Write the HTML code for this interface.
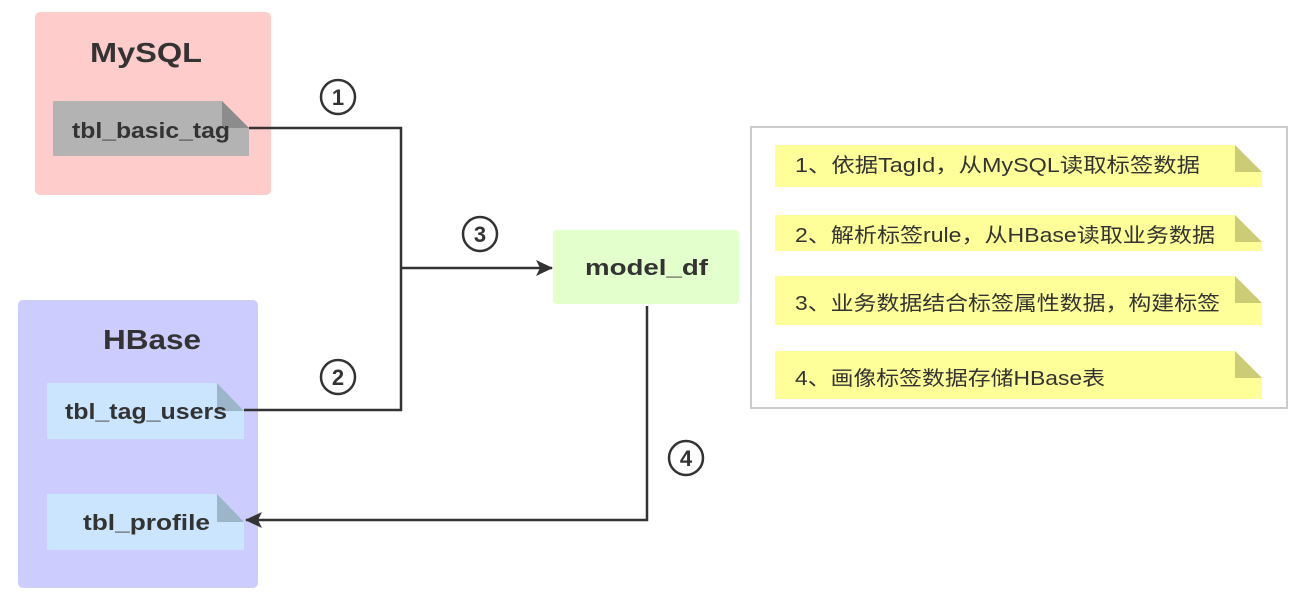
<!DOCTYPE html>
<html><head><meta charset="utf-8"><style>
html,body{margin:0;padding:0;background:#fff;}
svg{display:block;}
text{font-family:"Liberation Sans","Noto Sans CJK SC",sans-serif;}
</style></head><body>
<svg width="1304" height="608" viewBox="0 0 1304 608" xmlns="http://www.w3.org/2000/svg">
<defs>
<marker id="ar" markerWidth="18" markerHeight="16" refX="16" refY="8" orient="auto" markerUnits="userSpaceOnUse">
<path d="M0,0 L17,8 L0,16 L4,8 Z" fill="#333"/>
</marker>
</defs>
<rect x="35" y="12" width="236" height="183" rx="5" fill="#ffcccc"/>
<text x="90" y="62" font-size="28" font-weight="bold" fill="#333" textLength="112" lengthAdjust="spacingAndGlyphs">MySQL</text>
<path d="M53,101 H222 L249,128 V156 H53 Z" fill="#b3b3b3"/>
<path d="M222,101 V128 H249 Z" fill="#8c8c8c"/>
<text x="72" y="138" font-size="22" font-weight="bold" fill="#333" textLength="158" lengthAdjust="spacingAndGlyphs">tbl_basic_tag</text>
<rect x="18" y="300" width="240" height="288" rx="5" fill="#ccccff"/>
<text x="103" y="349" font-size="28" font-weight="bold" fill="#333" textLength="98" lengthAdjust="spacingAndGlyphs">HBase</text>
<path d="M47,383 H217 L244,411 V439 H47 Z" fill="#cce5ff"/>
<path d="M217,383 V411 H244 Z" fill="#9cb5c9"/>
<text x="65" y="419" font-size="22" font-weight="bold" fill="#333" textLength="162" lengthAdjust="spacingAndGlyphs">tbl_tag_users</text>
<path d="M47,494 H217 L244,522 V550 H47 Z" fill="#cce5ff"/>
<path d="M217,494 V522 H244 Z" fill="#9cb5c9"/>
<text x="83" y="530" font-size="22" font-weight="bold" fill="#333" textLength="127" lengthAdjust="spacingAndGlyphs">tbl_profile</text>
<rect x="553" y="230" width="186" height="74" rx="4" fill="#e2ffcc"/>
<text x="585" y="275" font-size="22" font-weight="bold" fill="#333" textLength="123" lengthAdjust="spacingAndGlyphs">model_df</text>
<g stroke="#333" stroke-width="2.5" fill="none">
<path d="M249,128 H401 V410 H244"/>
<path d="M401,268 H552" marker-end="url(#ar)"/>
<path d="M647,306 V520 H246" marker-end="url(#ar)"/>
</g>
<g stroke="#333" stroke-width="2.5" fill="#fff">
<circle cx="338" cy="97" r="17"/>
<circle cx="338" cy="377" r="17"/>
<circle cx="480" cy="234" r="17"/>
<circle cx="686" cy="458" r="17"/>
</g>
<g font-size="22" font-weight="bold" fill="#333" text-anchor="middle">
<text x="338" y="105">1</text>
<text x="338" y="385">2</text>
<text x="480" y="242">3</text>
<text x="686" y="466">4</text>
</g>
<rect x="751" y="127" width="536" height="281" fill="#fff" stroke="#cccccc" stroke-width="2"/>
<g>
<path d="M775,145 H1235 L1262,172 V187 H775 Z" fill="#ffff99"/>
<path d="M1235,145 V172 H1262 Z" fill="#cccc77"/>
<path d="M775,215 H1235 L1262,242 V251 H775 Z" fill="#ffff99"/>
<path d="M1235,215 V242 H1262 Z" fill="#cccc77"/>
<path d="M775,276 H1235 L1262,303 V325 H775 Z" fill="#ffff99"/>
<path d="M1235,276 V303 H1262 Z" fill="#cccc77"/>
<path d="M775,351 H1235 L1262,378 V399 H775 Z" fill="#ffff99"/>
<path d="M1235,351 V378 H1262 Z" fill="#cccc77"/>
</g>
<g font-size="20" fill="#333" lengthAdjust="spacingAndGlyphs">
<text x="795" y="172" textLength="405" lengthAdjust="spacingAndGlyphs">1、依据TagId，从MySQL读取标签数据</text>
<text x="795" y="242" textLength="420" lengthAdjust="spacingAndGlyphs">2、解析标签rule，从HBase读取业务数据</text>
<text x="795" y="310" textLength="425" lengthAdjust="spacingAndGlyphs">3、业务数据结合标签属性数据，构建标签</text>
<text x="795" y="385" textLength="310" lengthAdjust="spacingAndGlyphs">4、画像标签数据存储HBase表</text>
</g>
</svg>
</body></html>
